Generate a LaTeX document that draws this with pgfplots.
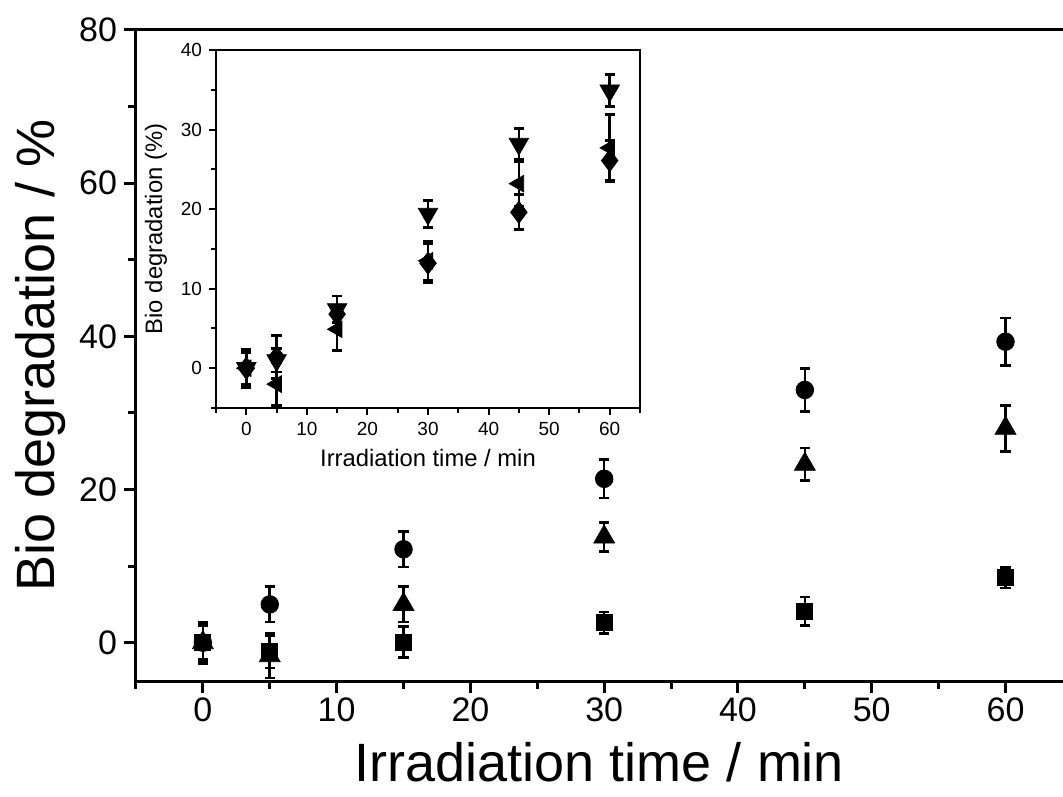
\documentclass[border=0pt]{standalone}
\usepackage{pgfplots}
\pgfplotsset{compat=1.18}
\usepackage{fontspec}
\setmainfont{Liberation Sans}
\begin{document}
\begin{tikzpicture}
\path[use as bounding box] (-68pt,-57.5pt) rectangle (463.5pt,340.5pt);
\pgfplotsset{
  ebar/.style={
    error bars/.cd, y dir=both, y explicit,
    error bar style={line width=1.3pt, black},
    error mark options={rotate=90, mark size=2.6pt, line width=1.3pt, black}
  }
}
\begin{axis}[
  at={(0,0)}, anchor=south west,
  scale only axis, width=463.5pt, height=325.5pt,
  xmin=-5, xmax=64.3, ymin=-5, ymax=80,
  axis x line=box, axis y line*=left,
  x axis line style={-, line width=1.5pt},
  y axis line style={-, line width=1.5pt},
  xtick={0,10,...,60}, minor xtick={-5,5,15,...,55},
  ytick={0,20,...,80}, minor ytick={10,30,...,70},
  xtick pos=left,
  tick align=outside,
  major tick length=6pt, minor tick length=4pt,
  every tick/.style={black, line width=1.5pt},
  /pgf/number format/assume math mode=true,
  ticklabel style={font=\fontsize{17}{20}\selectfont},
  xticklabel style={yshift=1pt},
  xlabel={Irradiation time / min},
  ylabel={Bio degradation / \%},
  label style={font=\fontsize{27}{32}\selectfont},
  xlabel style={yshift=-3pt},
  ylabel style={yshift=0pt},
  clip=false,
]
\addplot[only marks, mark=*, mark size=4.4pt, black, ebar] coordinates {
  (0,0) +- (0,2.5)
  (5,5.0) +- (0,2.3)
  (15,12.2) +- (0,2.3)
  (30,21.4) +- (0,2.5)
  (45,33.0) +- (0,2.8)
  (60,39.3) +- (0,3.1)
};
\addplot[only marks, mark=triangle*, mark size=6pt, black, ebar] coordinates {
  (0,0) +- (0,2.7)
  (5,-1.7) +- (0,2.9)
  (15,5.0) +- (0,2.3)
  (30,13.8) +- (0,1.9)
  (45,23.3) +- (0,2.1)
  (60,28.0) +- (0,3.0)
};
\addplot[only marks, mark=square*, mark size=4pt, black, ebar] coordinates {
  (0,0) +- (0,2.2)
  (5,-1.2) +- (0,2.1)
  (15,0.1) +- (0,2.0)
  (30,2.6) +- (0,1.4)
  (45,4.1) +- (0,1.85)
  (60,8.5) +- (0,1.35)
};
\end{axis}
\begin{axis}[
  at={(40pt,136.5pt)}, anchor=south west,
  scale only axis, width=212pt, height=179pt,
  xmin=-5, xmax=65, ymin=-5, ymax=40,
  axis line style={line width=1.2pt},
  xtick={0,10,...,60}, minor xtick={-5,5,15,...,65},
  ytick={0,10,...,40}, minor ytick={-5,5,15,...,35},
  tick pos=left,
  tick align=outside,
  major tick length=3.5pt, minor tick length=2.5pt,
  every tick/.style={black, line width=1pt},
  /pgf/number format/assume math mode=true,
  ticklabel style={font=\fontsize{9.5}{11}\selectfont},
  xlabel={Irradiation time / min},
  ylabel={Bio degradation (\%)},
  label style={font=\fontsize{11.9}{14}\selectfont},
  clip=false,
]
\addplot[only marks, mark=triangle*, mark size=5.6pt, black, mark options={rotate=180}, ebar] coordinates {
  (0,0) +- (0,2.0)
  (5,1.0) +- (0,1.5)
  (15,7.4) +- (0,1.7)
  (30,19.4) +- (0,1.7)
  (45,28.2) +- (0,1.9)
  (60,34.9) +- (0,2.0)
};
\addplot[only marks, mark=triangle*, mark size=4.8pt, black, mark options={rotate=90}, ebar] coordinates {
  (0,0) +- (0,2.3)
  (5,-2.0) +- (0,2.7)
  (15,4.9) +- (0,2.7)
  (30,13.5) +- (0,2.4)
  (45,23.2) +- (0,2.8)
  (60,27.7) +- (0,4.2)
};
\addplot[only marks, mark=diamond*, mark size=5.5pt, black, ebar] coordinates {
  (0,0) +- (0,2.4)
  (5,1.4) +- (0,2.7)
  (15,6.8) +- (0,1.0)
  (30,13.2) +- (0,2.4)
  (45,19.6) +- (0,2.2)
  (60,26.1) +- (0,2.5)
};
\end{axis}
\end{tikzpicture}
\end{document}
